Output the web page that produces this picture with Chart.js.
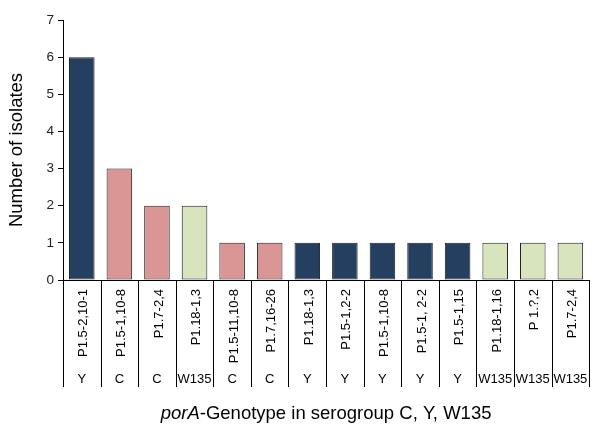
<!DOCTYPE html>
<html>
<head>
<meta charset="utf-8">
<script src="https://cdn.jsdelivr.net/npm/chart.js@4.4.1/dist/chart.umd.min.js"></script>
<style>
    html, body { margin: 0; padding: 0; background: #fff; }
    #wrap { width: 595px; height: 424px; position: relative; }
</style>
</head>
<body>
<div id="wrap"><canvas id="myChart"></canvas></div>
<script>
// dados
const genotypes = [
    "P1.5-2,10-1", "P1.5-1,10-8", "P1.7-2,4", "P1.18-1,3", "P1.5-11,10-8",
    "P1.7,16-26", "P1.18-1,3", "P1.5-1,2-2", "P1.5-1,10-8", "P1.5-1, 2-2",
    "P1.5-1,15", "P1.18-1,16", "P 1.?,2", "P1.7-2,4",
];
const serogroups = ["Y", "C", "C", "W135", "C", "C", "Y", "Y", "Y", "Y", "Y", "W135", "W135", "W135"];
const isolates = [6, 3, 2, 2, 1, 1, 1, 1, 1, 1, 1, 1, 1, 1];
const yTicks = [0, 1, 2, 3, 4, 5, 6, 7];

const groupColors = { Y: "#243F60", C: "#D99694", W135: "#D7E4BD" };
const FONT = "'Liberation Sans', Arial, sans-serif";
const TITLE_SIZE = 18.5;

const separadores = {
    id: "separadores",
    afterDraw(chart) {
        const ctx = chart.ctx;
        const x = chart.scales.x;
        const x2 = chart.scales.x2;
        const n = genotypes.length;
        ctx.save();
        ctx.strokeStyle = "#000";
        ctx.lineWidth = 1;
        for (let i = 0; i <= n; i++) {
            let px = Math.round(x.left + (i * x.width) / n) + 0.5;
            if (px > chart.width) px = chart.width - 0.5;
            ctx.beginPath();
            ctx.moveTo(px, x.top);
            ctx.lineTo(px, x2.bottom);
            ctx.stroke();
        }

        // titulo do eixo x, com "porA" em italico
        let cx = (chart.chartArea.left + chart.chartArea.right) / 2;
        let cy = x2.bottom + 27;
        let parte1 = "porA";
        let parte2 = "-Genotype in serogroup C, Y, W135";
        ctx.fillStyle = "#000";
        ctx.textBaseline = "middle";
        ctx.textAlign = "left";
        ctx.font = "italic " + TITLE_SIZE + "px " + FONT;
        let w1 = ctx.measureText(parte1).width;
        ctx.font = TITLE_SIZE + "px " + FONT;
        let w2 = ctx.measureText(parte2).width;
        let inicio = cx - (w1 + w2) / 2;
        ctx.font = "italic " + TITLE_SIZE + "px " + FONT;
        ctx.fillText(parte1, inicio, cy);
        ctx.font = TITLE_SIZE + "px " + FONT;
        ctx.fillText(parte2, inicio + w1, cy);
        ctx.restore();
    },
};

let ctx = document.getElementById("myChart").getContext("2d");

let myChart = new Chart(ctx, {
    type: "bar",
    data: {
        labels: genotypes,
        datasets: [
            {
                label: "Number of isolates",
                data: isolates,
                backgroundColor: serogroups.map((g) => groupColors[g]),
                borderColor: "#222",
                borderWidth: 1,
                borderSkipped: false,
                categoryPercentage: 1,
                barPercentage: 0.68,
                xAxisID: "x",
            },
        ],
    },
    options: {
        responsive: true,
        maintainAspectRatio: false,
        animation: false,
        layout: {
            padding: { top: 20, right: 1, bottom: 37, left: 0 },
        },
        plugins: {
            legend: { display: false },
            tooltip: { enabled: false },
        },
        scales: {
            y: {
                min: 0,
                max: 7,
                afterBuildTicks: (scale) => {
                    scale.ticks = yTicks.map((v) => ({ value: v }));
                },
                afterFit: (scale) => {
                    scale.width = 63;
                },
                grid: {
                    drawOnChartArea: false,
                    tickLength: 5,
                    color: "#000",
                },
                border: { color: "#000", width: 1 },
                ticks: {
                    color: "#222",
                    padding: 4,
                    font: { family: FONT, size: 13.5 },
                },
                title: {
                    display: true,
                    text: "Number of isolates",
                    color: "#000",
                    padding: { top: 6, bottom: 4 },
                    font: { family: FONT, size: TITLE_SIZE },
                },
            },
            x: {
                weight: 0,
                afterFit: (scale) => {
                    scale.height = 88;
                },
                grid: { display: false, drawTicks: false },
                border: { color: "#000", width: 1 },
                ticks: {
                    autoSkip: false,
                    minRotation: 90,
                    maxRotation: 90,
                    padding: 9,
                    labelOffset: 2,
                    color: "#000",
                    font: { family: FONT, size: 13 },
                },
            },
            x2: {
                type: "category",
                position: "bottom",
                labels: serogroups,
                offset: true,
                weight: 1,
                afterFit: (scale) => {
                    scale.height = 19;
                },
                grid: { display: false, drawTicks: false },
                border: { display: false },
                ticks: {
                    autoSkip: false,
                    maxRotation: 0,
                    padding: 4,
                    color: "#000",
                    font: { family: FONT, size: 13 },
                },
            },
        },
    },
    plugins: [separadores],
});
</script>
</body>
</html>
